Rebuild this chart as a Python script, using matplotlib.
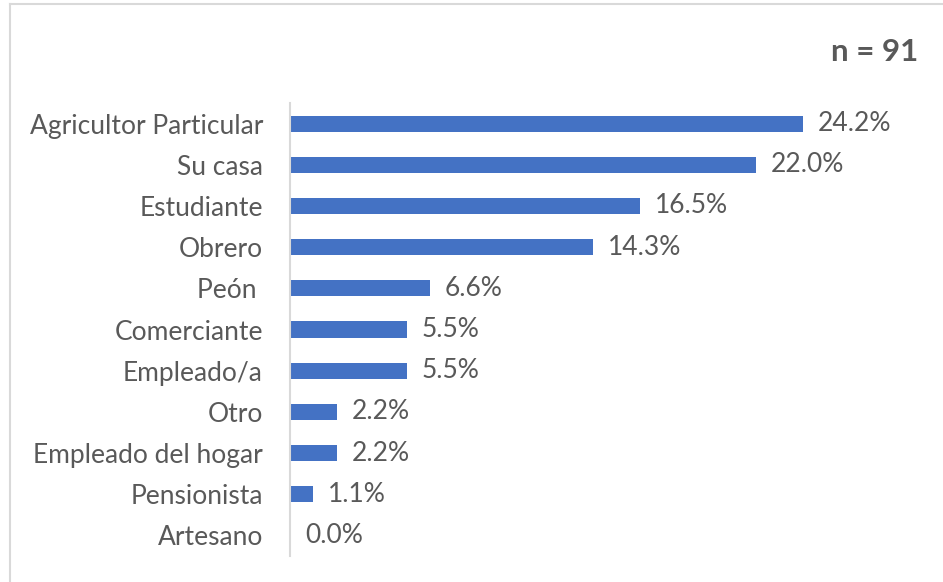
import matplotlib
matplotlib.use('Agg')
import matplotlib.pyplot as plt
from matplotlib.lines import Line2D

# Data
categories = ['Agricultor Particular', 'Su casa', 'Estudiante', 'Obrero', 'Peón ',
              'Comerciante', 'Empleado/a', 'Otro', 'Empleado del hogar',
              'Pensionista', 'Artesano']
percentages = [24.2, 22.0, 16.5, 14.3, 6.6, 5.5, 5.5, 2.2, 2.2, 1.1, 0.0]
sample_label = 'n = 91'

plt.rcParams['font.family'] = ['Lato', 'DejaVu Sans']
text_color = '#595959'
bar_color = '#4472C4'

fig = plt.figure(figsize=(9.43, 5.82), dpi=100)
W, H = 943, 582
ax = fig.add_axes([290 / W, 1 - 556 / H, (926 - 290) / W, 453 / H])

y = list(range(len(categories)))
ax.barh(y, percentages, height=0.39, color=bar_color)
ax.set_ylim(len(categories) - 0.5, -0.5)
ax.set_xlim(0, 30)

for yi, v in zip(y, percentages):
    ax.text(v + 0.7, yi, f'{v:.1f}%', va='center', ha='left',
            fontsize=19, color=text_color)

ax.set_yticks(y)
ax.set_yticklabels(categories, fontsize=19, color=text_color)
ax.tick_params(axis='y', length=0, pad=19.5)
ax.set_xticks([])
for s in ['top', 'right', 'bottom']:
    ax.spines[s].set_visible(False)
ax.spines['left'].set_color('#d9d9d9')
ax.spines['left'].set_linewidth(1.5)

fig.text(918 / W, 1 - 52 / H, sample_label, ha='right', va='center',
         fontsize=22.5, fontweight='bold', color=text_color)

# outer frame
fig.add_artist(Line2D([10 / W, 10 / W], [0, 1 - 4 / H], color='#d9d9d9', lw=1.5))
fig.add_artist(Line2D([10 / W, 1], [1 - 4 / H, 1 - 4 / H], color='#d9d9d9', lw=1.5))

fig.savefig('out.png', dpi=100, facecolor='white')
